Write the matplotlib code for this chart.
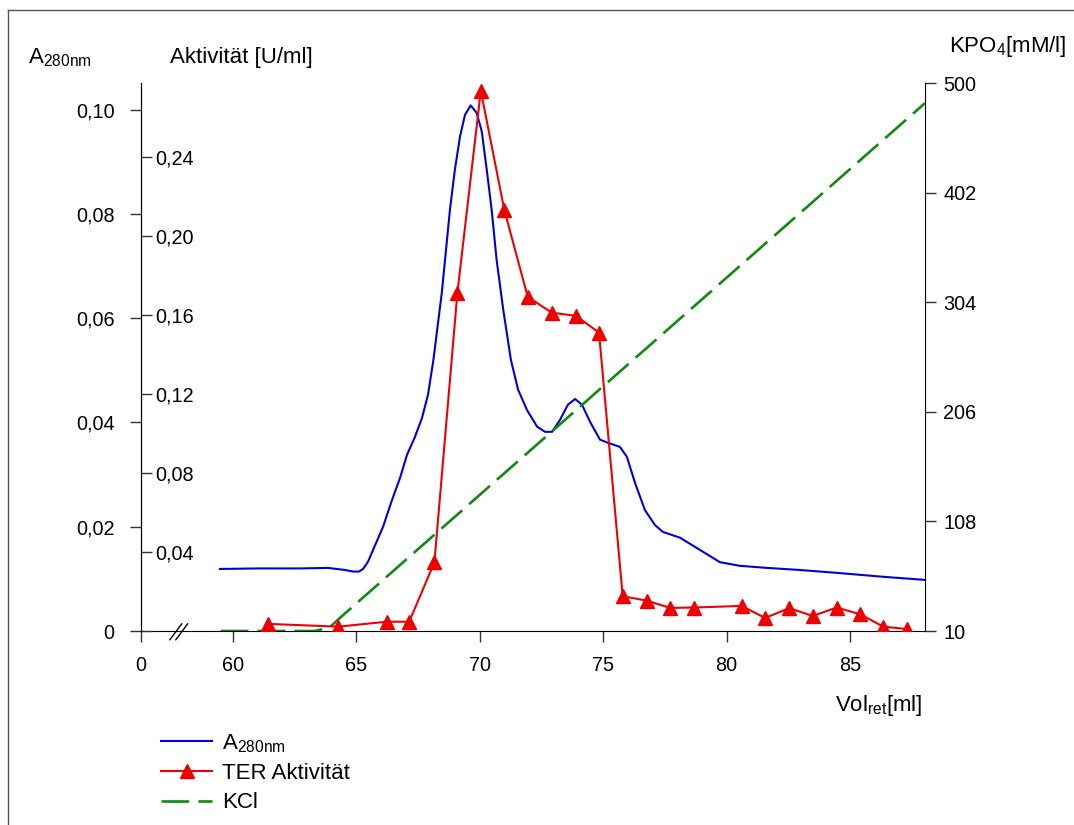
import matplotlib

matplotlib.use("Agg")
import matplotlib.pyplot as plt
from matplotlib.lines import Line2D
from matplotlib.transforms import blended_transform_factory

plt.rcParams["font.family"] = ["Liberation Sans", "DejaVu Sans"]
plt.rcParams["font.size"] = 14.3
plt.rcParams["mathtext.default"] = "regular"

# A280 (Extinktion) über dem Retentionsvolumen
vol_a280 = [59.47, 61.09, 62.71, 63.85, 64.54, 64.86, 65.10, 65.27, 65.47, 65.67,
            65.88, 66.08, 66.44, 66.77, 67.05, 67.37, 67.66, 67.90, 68.12, 68.46,
            68.79, 68.99, 69.20, 69.40, 69.63, 69.87, 70.08, 70.28, 70.48, 70.68,
            70.95, 71.26, 71.55, 71.91, 72.32, 72.64, 72.93, 73.25, 73.57, 73.86,
            74.14, 74.47, 74.87, 75.19, 75.68, 75.96, 76.29, 76.69, 77.10, 77.42,
            78.11, 78.80, 79.73, 80.54, 81.64, 82.98, 84.60, 86.34, 88.04]
a280 = [0.0119, 0.0120, 0.0120, 0.0121, 0.0117, 0.0114, 0.0114, 0.0119, 0.0133, 0.0155,
        0.0178, 0.0200, 0.0251, 0.0294, 0.0338, 0.0372, 0.0409, 0.0453, 0.0520, 0.0649,
        0.0808, 0.0885, 0.0949, 0.0990, 0.1008, 0.0994, 0.0958, 0.0885, 0.0808, 0.0712,
        0.0616, 0.0520, 0.0463, 0.0424, 0.0392, 0.0382, 0.0382, 0.0405, 0.0434, 0.0445,
        0.0434, 0.0401, 0.0367, 0.0361, 0.0353, 0.0334, 0.0284, 0.0232, 0.0203, 0.0190,
        0.0179, 0.0159, 0.0132, 0.0125, 0.0121, 0.0117, 0.0111, 0.0104, 0.0098]

# TER-Aktivität der Fraktionen
vol_frak = [61.41, 64.27, 66.23, 67.14, 68.16, 69.09, 70.04, 70.99, 71.94, 72.91,
            73.89, 74.83, 75.79, 76.76, 77.71, 78.69, 80.61, 81.56, 82.54, 83.49,
            84.46, 85.41, 86.35, 87.30]
aktivitaet = [0.0036, 0.0022, 0.0047, 0.0047, 0.0348, 0.1710, 0.2736, 0.2134, 0.1693, 0.1612,
              0.1596, 0.1511, 0.0176, 0.0154, 0.0117, 0.0119, 0.0127, 0.0066, 0.0116, 0.0076,
              0.0119, 0.0085, 0.0022, 0.0010]

# Gradient KPO4
vol_grad = [59.5, 63.3, 63.9, 64.5, 88.04]
kpo4 = [10, 10, 13, 25, 482]

x_ticks = [60, 65, 70, 75, 80, 85]
a280_ticks = [0, 0.02, 0.04, 0.06, 0.08, 0.10]
akt_ticks = [0, 0.04, 0.08, 0.12, 0.16, 0.20, 0.24]
kpo4_ticks = [10, 108, 206, 304, 402, 500]

x_start = 56.27  # linker Rand hinter dem Achsenbruch, beschriftet mit 0
x_end = 88.04
titel_size = 16


def komma(v, nachkomma=2):
    return "0" if v == 0 else f"{v:.{nachkomma}f}".replace(".", ",")


fig = plt.figure(figsize=(10.74, 8.25), dpi=100)
ax = fig.add_axes([0.13128, 0.23515, 0.72998, 0.66424])
ax_kpo = ax.twinx()
ax_akt = ax.twinx()
for a in (ax, ax_kpo, ax_akt):
    a.patch.set_visible(False)
    for s in a.spines.values():
        s.set_visible(False)
    a.set_xlim(x_start, x_end)

tick_kw = dict(length=8, width=1.0, color="#333333")

# linke Achse: A280
ax.spines["left"].set_visible(True)
ax.spines["bottom"].set_visible(True)
ax.set_ylim(0, 0.1051)
ax.set_yticks(a280_ticks, [komma(v) for v in a280_ticks])
ax.tick_params(axis="y", direction="out", pad=11, **tick_kw)
ax.set_xticks([x_start] + x_ticks, ["0"] + [str(v) for v in x_ticks])
ax.tick_params(axis="x", direction="out", pad=10, **tick_kw)

# zweite linke Achse: Aktivität, Beschriftung innen
ax_akt.spines["right"].set_visible(True)
ax_akt.spines["right"].set_position(("axes", 0))
ax_akt.set_ylim(0, 0.2775)
ax_akt.set_yticks(akt_ticks, [komma(v) if v else "" for v in akt_ticks])
ax_akt.tick_params(axis="y", direction="out", pad=2, **tick_kw)

# rechte Achse: KPO4
ax_kpo.spines["right"].set_visible(True)
ax_kpo.set_ylim(10, 500)
ax_kpo.set_yticks(kpo4_ticks, [str(v) for v in kpo4_ticks])
ax_kpo.tick_params(axis="y", direction="out", pad=5, **tick_kw)

ln_a, = ax.plot(vol_a280, a280, color="#0000dd", lw=1.5, solid_joinstyle="round")
ln_k, = ax_kpo.plot(vol_grad, kpo4, color="#108a10", lw=1.9, dashes=(10.5, 3.5))
ln_t, = ax_akt.plot(vol_frak, aktivitaet, color="#ee0000", lw=1.5,
                    marker="^", markersize=10, markeredgecolor="#ee0000")

# Achsenbruch //
tr = blended_transform_factory(ax.transData, ax.transAxes)
for x0 in (57.44, 57.68):
    ax.plot([x0, x0 + 0.48], [-0.016, 0.013], color="black", lw=1.0,
            transform=tr, clip_on=False)

# Achsentitel
fig.text(28 / 1074, 1 - 63 / 825, "A$_{280nm}$", ha="left", va="baseline", fontsize=titel_size)
fig.text(170 / 1074, 1 - 63 / 825, "Aktivität [U/ml]", ha="left", va="baseline",
         fontsize=titel_size)
fig.text(1066 / 1074, 1 - 52 / 825, "KPO$_4$[mM/l]", ha="right", va="baseline",
         fontsize=titel_size)
fig.text(922 / 1074, 1 - 711 / 825, "Vol$_{ret}$[ml]", ha="right", va="baseline",
         fontsize=titel_size)

fig.legend([ln_a, ln_t, ln_k], ["A$_{280nm}$", "TER Aktivität", "KCl"],
           loc="upper left", bbox_to_anchor=(161 / 1074, 1 - 732 / 825),
           frameon=False, borderpad=0, borderaxespad=0, handlelength=2.3,
           handletextpad=0.45, labelspacing=0.38, fontsize=titel_size)

# Rahmen um die Grafik
fig.add_artist(Line2D([8 / 1074, 8 / 1074], [0, 1 - 10 / 825], color="#555555", lw=1.0))
fig.add_artist(Line2D([8 / 1074, 1], [1 - 10 / 825, 1 - 10 / 825], color="#555555", lw=1.0))

fig.savefig("out.png", dpi=100)
